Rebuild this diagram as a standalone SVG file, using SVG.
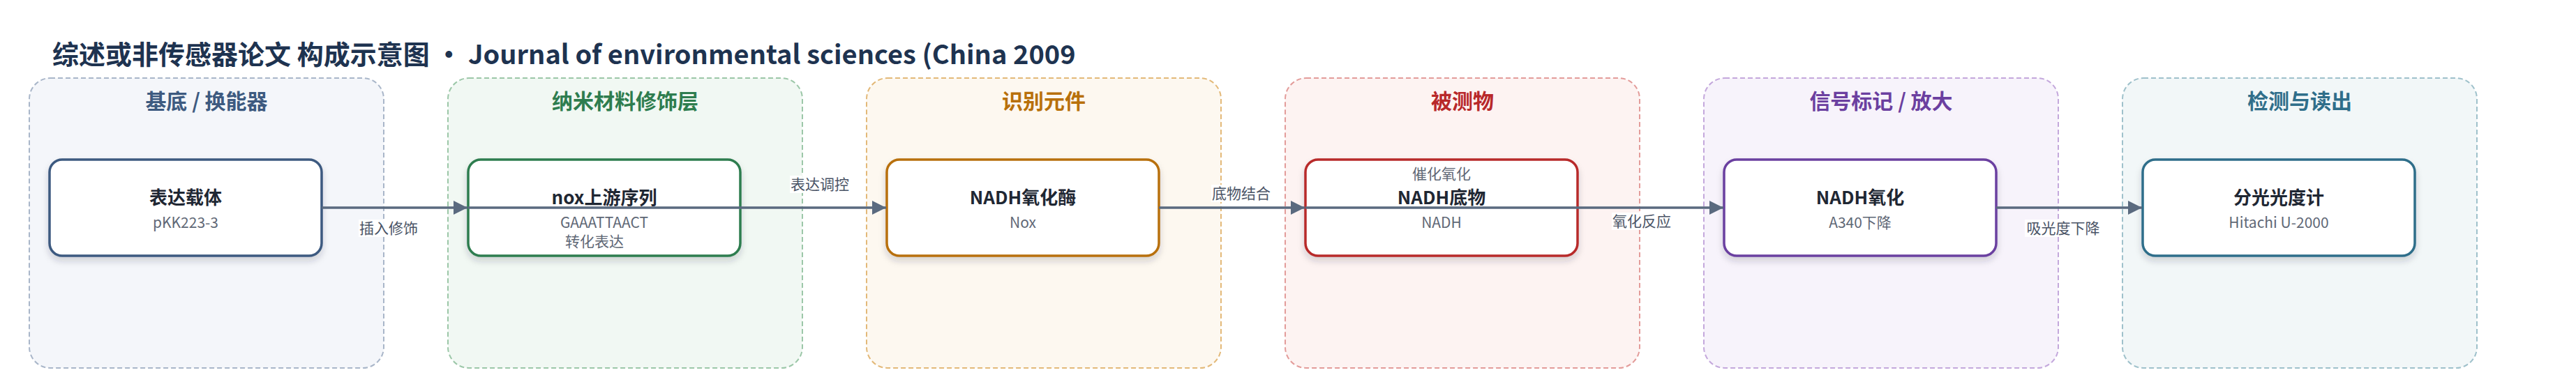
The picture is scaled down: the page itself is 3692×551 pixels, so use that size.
<svg xmlns="http://www.w3.org/2000/svg" width="3692" height="551" viewBox="0 0 3692 551">
<defs>
<style>
text{font-family:"Noto Sans CJK SC","Noto Sans",sans-serif;}
.title{font-size:38px;font-weight:700;fill:#1e3350;}
.gbox{stroke-width:2;stroke-dasharray:7 4;}
.gtitle{font-size:30px;font-weight:700;text-anchor:middle;}
.node{fill:#ffffff;stroke-width:3.5;filter:url(#sh);}
.ntitle{font-size:26px;font-weight:700;fill:#1f2733;text-anchor:middle;}
.nsub{font-size:21px;fill:#5f6876;text-anchor:middle;}
.edge{stroke:#5a6a7f;stroke-width:3.5;fill:none;marker-end:url(#arr);}
.lbg{fill:#ffffff;fill-opacity:0.92;}
.ltxt{font-size:21px;fill:#4a5466;text-anchor:middle;}
</style>
<filter id="sh" x="-10%" y="-20%" width="120%" height="150%">
<feDropShadow dx="0" dy="6" stdDeviation="5" flood-color="#1e2a3a" flood-opacity="0.18"/>
</filter>
<marker id="arr" viewBox="0 0 20 20" refX="20" refY="10" markerWidth="20" markerHeight="20" markerUnits="userSpaceOnUse" orient="auto">
<path d="M0,0 L20,10 L0,20 Z" fill="#5a6a7f"/>
</marker>
</defs>
<rect width="3692" height="551" fill="#ffffff"/>
<text class="title" x="75" y="92">综述或非传感器论文 构成示意图 • Journal of environmental sciences (China 2009</text>

<g id="group1">
<rect class="gbox" x="42" y="112" width="508" height="416" rx="30" fill="#f4f6fa" stroke="#a9b6c9"/>
<text class="gtitle" x="296" y="156" fill="#3d5a80">基底 / 换能器</text>
</g>
<g id="group2">
<rect class="gbox" x="642" y="112" width="508" height="416" rx="30" fill="#f1f8f3" stroke="#9cc7a8"/>
<text class="gtitle" x="896" y="156" fill="#2e7d4f">纳米材料修饰层</text>
</g>
<g id="group3">
<rect class="gbox" x="1242" y="112" width="508" height="416" rx="30" fill="#fdf8f0" stroke="#e3b979"/>
<text class="gtitle" x="1496" y="156" fill="#b8700a">识别元件</text>
</g>
<g id="group4">
<rect class="gbox" x="1842" y="112" width="508" height="416" rx="30" fill="#fdf3f2" stroke="#e39c9a"/>
<text class="gtitle" x="2096" y="156" fill="#b8282a">被测物</text>
</g>
<g id="group5">
<rect class="gbox" x="2442" y="112" width="508" height="416" rx="30" fill="#f7f3fb" stroke="#c4a8dc"/>
<text class="gtitle" x="2696" y="156" fill="#6b3fa0">信号标记 / 放大</text>
</g>
<g id="group6">
<rect class="gbox" x="3042" y="112" width="508" height="416" rx="30" fill="#f2f7f8" stroke="#9fc1cb"/>
<text class="gtitle" x="3296" y="156" fill="#2f6e8a">检测与读出</text>
</g>

<g id="node1">
<rect class="node" x="71" y="229" width="390" height="138" rx="18" stroke="#3d5a80"/>
<text class="ntitle" x="266" y="293">表达载体</text>
<text class="nsub" x="266" y="327">pKK223-3</text>
</g>
<g id="node2">
<rect class="node" x="671" y="229" width="390" height="138" rx="18" stroke="#2e7d4f"/>
<text class="ntitle" x="866" y="293">nox上游序列</text>
<text class="nsub" x="866" y="327">GAAATTAACT</text>
<text class="nsub" x="852" y="354">转化表达</text>
</g>
<g id="node3">
<rect class="node" x="1271" y="229" width="390" height="138" rx="18" stroke="#b8700a"/>
<text class="ntitle" x="1466" y="293">NADH氧化酶</text>
<text class="nsub" x="1466" y="327">Nox</text>
</g>
<g id="node4">
<rect class="node" x="1871" y="229" width="390" height="138" rx="18" stroke="#b82a2a"/>
<text class="nsub" x="2066" y="257">催化氧化</text>
<text class="ntitle" x="2066" y="293">NADH底物</text>
<text class="nsub" x="2066" y="327">NADH</text>
</g>
<g id="node5">
<rect class="node" x="2471" y="229" width="390" height="138" rx="18" stroke="#6b3fa0"/>
<text class="ntitle" x="2666" y="293">NADH氧化</text>
<text class="nsub" x="2666" y="327">A340下降</text>
</g>
<g id="node6">
<rect class="node" x="3071" y="229" width="390" height="138" rx="18" stroke="#2f6e8a"/>
<text class="ntitle" x="3266" y="293">分光光度计</text>
<text class="nsub" x="3266" y="327">Hitachi U-2000</text>
</g>

<g id="connectors">
<line class="edge" x1="461" y1="298" x2="670" y2="298"/>
<line class="edge" x1="671" y1="298" x2="1270" y2="298"/>
<line class="edge" x1="1661" y1="298" x2="1870" y2="298"/>
<line class="edge" x1="1871" y1="298" x2="2470" y2="298"/>
<line class="edge" x1="2861" y1="298" x2="3070" y2="298"/>
<rect class="lbg" x="514" y="315" width="86" height="25"/>
<text class="ltxt" x="557" y="335">插入修饰</text>
<rect class="lbg" x="1132" y="252" width="86" height="25"/>
<text class="ltxt" x="1175" y="272">表达调控</text>
<rect class="lbg" x="1736" y="265" width="86" height="25"/>
<text class="ltxt" x="1779" y="285">底物结合</text>
<rect class="lbg" x="2310" y="305" width="87" height="25"/>
<text class="ltxt" x="2353" y="325">氧化反应</text>
<rect class="lbg" x="2902" y="315" width="110" height="25"/>
<text class="ltxt" x="2957" y="335">吸光度下降</text>
</g>
</svg>
